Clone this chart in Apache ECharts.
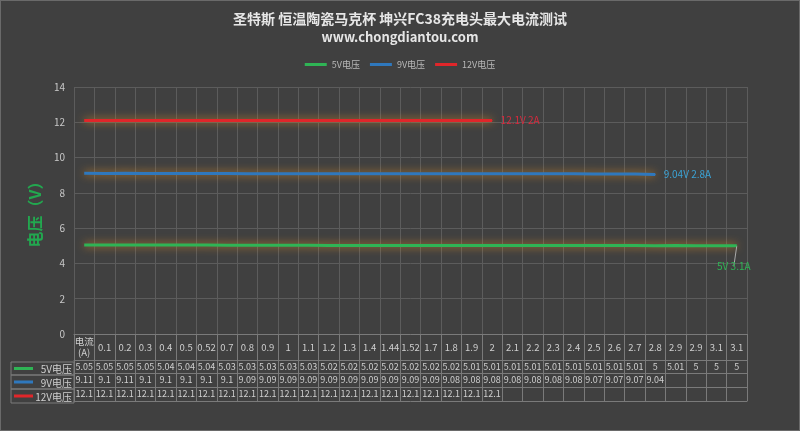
<!DOCTYPE html>
<html><head><meta charset="utf-8">
<script src="https://cdn.jsdelivr.net/npm/echarts@6/dist/echarts.min.js"></script>
<style>html,body{margin:0;padding:0;background:#404040;}#c{width:800px;height:431px;box-sizing:border-box;border:1px solid #6a6a6a;}</style>
</head><body><div id="c"></div>
<script>
const categories = ['电流\n(A)','0.1','0.2','0.3','0.4','0.5','0.52','0.7','0.8','0.9','1','1.1','1.2','1.3','1.4','1.44','1.52','1.7','1.8','1.9','2','2.1','2.2','2.3','2.4','2.5','2.6','2.7','2.8','2.9','2.9','3.1','3.1'];
const v5 = [5.05,5.05,5.05,5.05,5.04,5.04,5.04,5.03,5.03,5.03,5.03,5.03,5.02,5.02,5.02,5.02,5.02,5.02,5.02,5.01,5.01,5.01,5.01,5.01,5.01,5.01,5.01,5.01,5,5.01,5,5,5];
const v9 = [9.11,9.1,9.11,9.1,9.1,9.1,9.1,9.1,9.09,9.09,9.09,9.09,9.09,9.09,9.09,9.09,9.09,9.09,9.08,9.08,9.08,9.08,9.08,9.08,9.08,9.07,9.07,9.07,9.04,null,null,null,null];
const v12 = [12.1,12.1,12.1,12.1,12.1,12.1,12.1,12.1,12.1,12.1,12.1,12.1,12.1,12.1,12.1,12.1,12.1,12.1,12.1,12.1,12.1,null,null,null,null,null,null,null,null,null,null,null,null];
const seriesNames = ['5V电压','9V电压','12V电压'];
const endLabels = ['5V 3.1A','9.04V 2.8A','12.1V 2A'];
const yTicks = {min:0,max:14,interval:2};

const colors = ['#2fb455','#2f78bd','#e0262a'];
const labelColors = ['#2fb455','#3ba3d6','#d92a3e'];
const font = '"Noto Sans CJK SC","Microsoft YaHei",sans-serif';
const gridColor = '#5c5c5c';
const cellBorder = '#7a7a7a';
const textColor = '#cfcfcf';

function lastIdx(a){for(let i=a.length-1;i>=0;i--) if(a[i]!=null) return i; return -1;}
function buildData(vals, k){
  const li = lastIdx(vals);
  return vals.map((v,i)=>{
    if(i!==li) return v;
    const lab = {show:true, formatter: endLabels[k], color: labelColors[k], fontSize: 10, fontFamily: font};
    if(k===0){ Object.assign(lab,{position:'bottom', distance: 15, offset:[-3,0]}); }
    else { Object.assign(lab,{position:'right', distance: 8}); }
    return {value:v, symbol:'circle', symbolSize:1, label: lab,
      labelLine: k===0 ? {show:true, lineStyle:{color:'#aaa', width:1}} : undefined};
  });
}

const rowH = [26,13,14,14];
function mkAxis(idx, offset, tickLen, labelsArr, margin, fs){
  return {
    type:'category', data: categories, gridIndex:0, position:'bottom', offset: offset,
    boundaryGap:true,
    axisLine:{show:true, lineStyle:{color:cellBorder}},
    axisTick:{show: tickLen>0, length: tickLen, interval:0, lineStyle:{color:cellBorder}},
    axisLabel:{show: !!labelsArr, interval:0, margin: margin, verticalAlign:'middle',
      color:textColor, fontSize:fs, lineHeight:11, fontFamily: font,
      formatter: labelsArr ? (val, i) => { const x = labelsArr[i]; return x==null ? '' : String(x); } : undefined},
    splitLine:{show: idx===0, interval:0, lineStyle:{color:gridColor}}
  };
}

const chart = echarts.init(document.getElementById('c'));
const gLeft = 73, gRight = 52, gBottom = 96;
const tableTop = 431 - gBottom;
const rowHeaderGraphics = [];
let y = tableTop + rowH[0];
for(let k=0;k<3;k++){
  const h = rowH[k+1];
  rowHeaderGraphics.push({type:'rect', shape:{x:10, y:y, width:gLeft-10, height:h}, style:{fill:'none', stroke:cellBorder, lineWidth:1}});
  rowHeaderGraphics.push({type:'line', shape:{x1:13, y1:y+h/2, x2:32, y2:y+h/2}, style:{stroke:colors[k], lineWidth:3}});
  rowHeaderGraphics.push({type:'text', style:{text:seriesNames[k], x:gLeft-2, y:y+h/2+1, align:'right', verticalAlign:'middle', fill:textColor, fontSize:10, fontFamily:font}});
  y += h;
}

chart.setOption({
  backgroundColor:'#404040',
  title:{text:'圣特斯 恒温陶瓷马克杯 坤兴FC38充电头最大电流测试', subtext:'www.chongdiantou.com', left:'center', top:6,
    itemGap:5,
    textStyle:{color:'#e6e6e6', fontSize:14, fontWeight:'bold', fontFamily:font},
    subtextStyle:{color:'#e6e6e6', fontSize:13, fontWeight:'bold', fontFamily:font}},
  legend:{top:54, left:'center', itemWidth:22, itemHeight:3, itemGap:10, icon:'rect',
    textStyle:{color:'#b8b8b8', fontSize:9, fontFamily:font}, data: seriesNames},
  grid:{left:gLeft, right:gRight, top:86, bottom:gBottom, containLabel:false, show:false},
  xAxis:[
    mkAxis(0, 0, rowH[0], categories, 13, 9.5),
    mkAxis(1, rowH[0], rowH[1], v5, 6.5, 9),
    mkAxis(2, rowH[0]+rowH[1], rowH[2], v9, 7, 9),
    mkAxis(3, rowH[0]+rowH[1]+rowH[2], rowH[3], v12, 7, 9),
    mkAxis(4, rowH[0]+rowH[1]+rowH[2]+rowH[3], 0, null, 0, 9)
  ],
  yAxis:{type:'value', min:yTicks.min, max:yTicks.max, interval:yTicks.interval,
    name:'电压（V）', nameLocation:'middle', nameRotate:90, nameGap:30,
    nameTextStyle:{color:'#22a84f', fontSize:16, fontWeight:'bold', fontFamily:font, align:'center'},
    axisLine:{show:false}, axisTick:{show:false},
    axisLabel:{color:'#c8c8c8', fontSize:10, fontFamily:font, margin:9},
    splitLine:{show:true, lineStyle:{color:gridColor}}},
  graphic: rowHeaderGraphics,
  series: [v5, v9, v12].map((vals,k)=>({
    name: seriesNames[k], type:'line', xAxisIndex:0, yAxisIndex:0,
    data: buildData(vals,k), symbol:'none', connectNulls:false,
    lineStyle:{color:colors[k], width:3, shadowColor:'rgba(215,140,40,0.95)', shadowBlur:9},
    itemStyle:{color:colors[k]},
    emphasis:{disabled:true}, animation:false
  })),
  animation:false
});
</script></body></html>
